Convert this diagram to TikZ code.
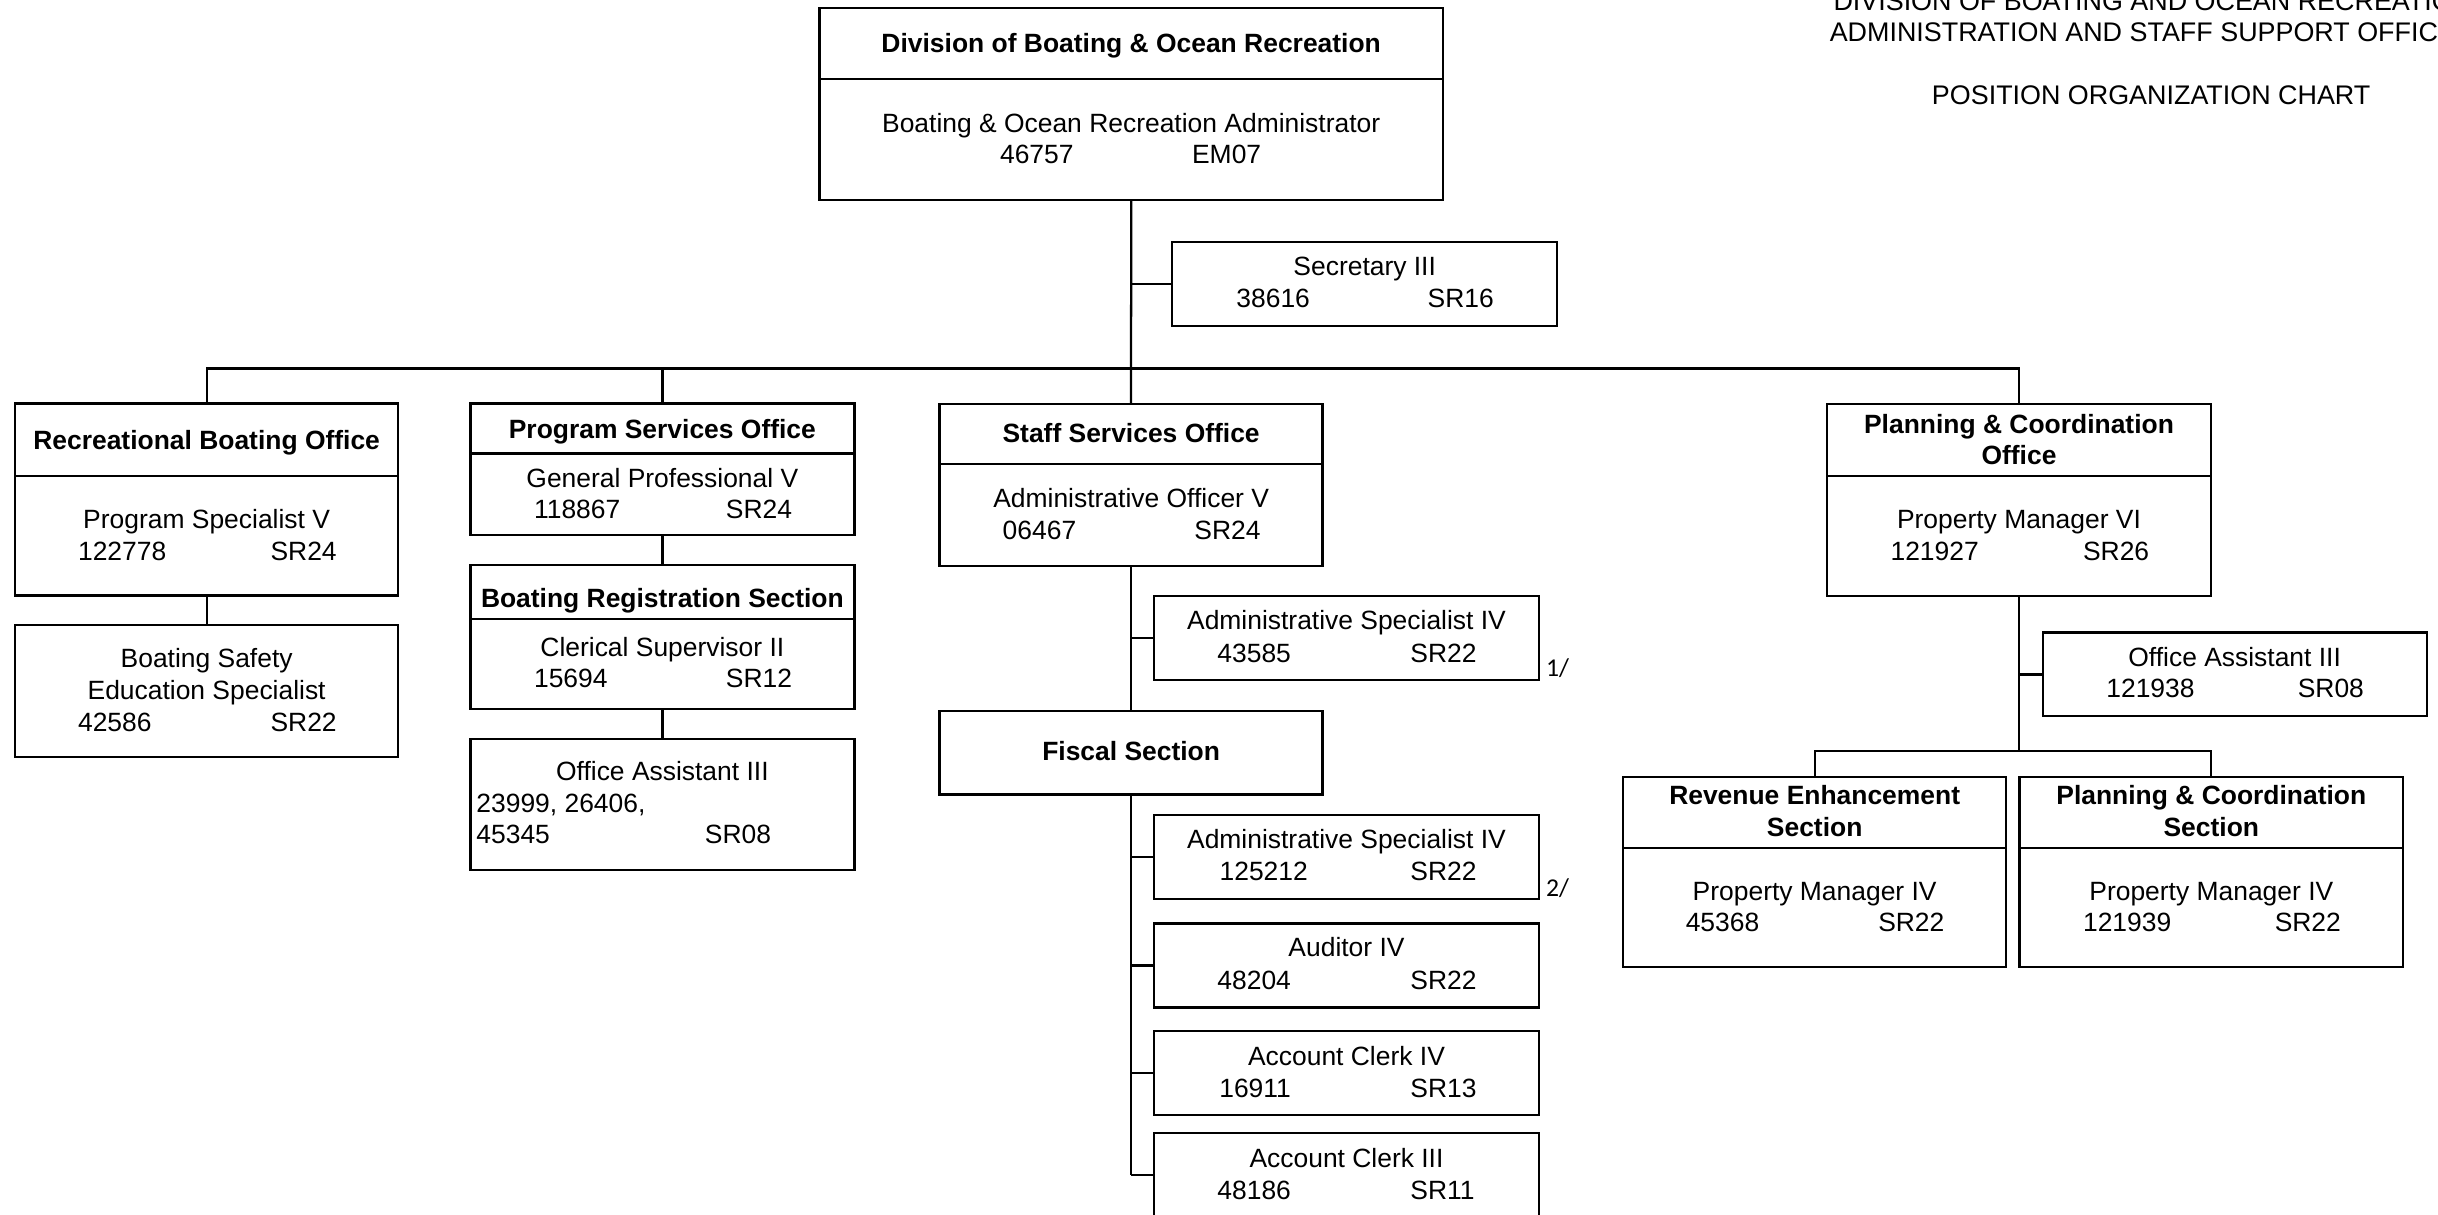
\documentclass[tikz,border=0pt]{standalone}
\usepackage{fontspec}
\setmainfont{Liberation Sans}
\newfontfamily\notefont{Carlito}
\tikzset{
  bx/.style={draw, line width=1.45pt, inner sep=0pt, outer sep=0pt},
  ln/.style={line width=1.45pt},
  tx/.style={inner sep=0pt, anchor=base, font=\fontsize{17}{20.5}\selectfont},
  txb/.style={inner sep=0pt, anchor=base, font=\fontsize{17}{20.5}\selectfont\bfseries},
  txl/.style={inner sep=0pt, anchor=base west, font=\fontsize{17}{20.5}\selectfont},
  hdr/.style={inner sep=0pt, anchor=base west, font=\fontsize{17.3}{20.5}\selectfont},
  note/.style={inner sep=0pt, anchor=base west, font=\notefont\fontsize{16.5}{19}\selectfont},
}
\newcommand\bxx[5]{\node[bx, minimum width={(#4-#2)*1pt}, minimum height={(#5-#3)*1pt}] (#1) at ({(#2+#4)/2},{(#3+#5)/2}) {};}
\newcommand\dvd[3]{\draw[ln] (#1,#3) -- (#2,#3);}
\newcommand\txc[4]{\node[tx] (#1) at (#2,{#3+6}) {#4};}
\newcommand\txbc[4]{\node[txb] (#1) at (#2,{#3+6}) {#4};}
\newcommand\txw[4]{\node[txl] (#1) at (#2,{#3+6}) {#4};}
\begin{document}
\begin{tikzpicture}[x=1pt,y=-1pt]
\useasboundingbox (0,0) rectangle (1568,781);
\fill[white] (0,0) rectangle (1568,781);
\clip (0,0) rectangle (1568,781);

% header
\node[hdr] (h1) at (1179,7) {DIVISION OF BOATING AND OCEAN RECREATION};
\node[hdr] (h2) at (1176.6,26.4) {ADMINISTRATION AND STAFF SUPPORT OFFICE};
\node[hdr, anchor=base] (h3) at (1383.5,67.1) {POSITION ORGANIZATION CHART};

% top
\bxx{top}{527}{5}{928}{128.6}
\dvd{527}{928}{51}
\txbc{ttitle}{727.5}{28}{Division of Boating \& Ocean Recreation}
\txc{tpos}{727.5}{79}{Boating \& Ocean Recreation Administrator}
\txw{tno}{643}{99}{46757}
\txw{tgr}{766.5}{99}{EM07}

% secretary
\bxx{sec}{754}{155.5}{1001.5}{209.6}
\txc{secpos}{877.7}{171.5}{Secretary III}
\txw{secno}{795}{192}{38616}
\txw{secgr}{918}{192}{SR16}

% recreational boating
\bxx{rec}{9.6}{259.5}{256.2}{383}
\dvd{9.6}{256.2}{306}
\txbc{rectitle}{132.9}{283}{Recreational Boating Office}
\txc{recpos}{132.9}{334}{Program Specialist V}
\txw{recno}{50}{354.3}{122778}
\txw{recgr}{173.8}{354.3}{SR24}

\bxx{safe}{9.6}{402}{256.2}{487}
\txc{safep1}{132.9}{423.5}{Boating Safety}
\txc{safep2}{132.9}{444}{Education Specialist}
\txw{safeno}{50}{464.4}{42586}
\txw{safegr}{173.8}{464.4}{SR22}

% program services
\bxx{prog}{302.6}{259.5}{549.5}{344}
\dvd{302.6}{549.5}{291.6}
\txbc{progtitle}{426}{276}{Program Services Office}
\txc{progpos}{426}{307.4}{General Professional V}
\txw{progno}{343.3}{327.7}{118867}
\txw{proggr}{466.7}{327.7}{SR24}

\bxx{reg}{302.6}{363.6}{549.5}{455.8}
\dvd{302.6}{549.5}{398}
\txbc{regtitle}{426}{384.5}{Boating Registration Section}
\txc{regpos}{426}{416.3}{Clerical Supervisor II}
\txw{regno}{343.3}{436.3}{15694}
\txw{reggr}{466.7}{436.3}{SR12}

\bxx{oa}{302.6}{475.2}{549.5}{559.5}
\txc{oapos}{426}{495.7}{Office Assistant III}
\txw{oano1}{306.2}{516.3}{23999, 26406,}
\txw{oano2}{306.2}{536.8}{45345}
\txw{oagr}{453.2}{536.8}{SR08}

% staff services
\bxx{staff}{604.3}{259.8}{850.6}{363.8}
\dvd{604.3}{850.6}{298.6}
\txbc{stafftitle}{727.5}{278.7}{Staff Services Office}
\txc{staffpos}{727.5}{320.5}{Administrative Officer V}
\txw{staffno}{644.7}{340.9}{06467}
\txw{staffgr}{768}{340.9}{SR24}

\bxx{as1}{742.3}{383.3}{989.8}{437.4}
\txc{asonepos}{866}{398.8}{Administrative Specialist IV}
\txw{asoneno}{782.8}{419.8}{43585}
\txw{asonegr}{906.9}{419.8}{SR22}
\node[note] (n1) at (994.2,434.8) {1/};

\bxx{fiscal}{604.3}{457.1}{850.6}{510.9}
\txbc{fistitle}{727.5}{482.8}{Fiscal Section}

\bxx{as2}{742.3}{524.2}{989.8}{578.2}
\txc{astwopos}{866}{539.8}{Administrative Specialist IV}
\txw{astwono}{784.2}{560.6}{125212}
\txw{astwogr}{906.9}{560.6}{SR22}
\node[note] (n2) at (994.2,576.3) {2/};

\bxx{aud}{742.3}{593.9}{989.8}{647.9}
\txc{audpos}{866}{608.9}{Auditor IV}
\txw{audno}{782.8}{630.3}{48204}
\txw{audgr}{906.9}{630.3}{SR22}

\bxx{ac4}{742.3}{663.1}{989.8}{717.1}
\txc{acfpos}{866}{679.2}{Account Clerk IV}
\txw{acfno}{784}{700}{16911}
\txw{acfgr}{906.9}{700}{SR13}

\bxx{ac3}{742.3}{728.5}{989.8}{782.5}
\txc{actpos}{866}{745}{Account Clerk III}
\txw{actno}{782.8}{765.4}{48186}
\txw{actgr}{906.9}{765.4}{SR11}

% planning & coordination
\bxx{plan}{1175.1}{259.7}{1421.9}{383.3}
\dvd{1175.1}{1421.9}{306.2}
\txbc{plant1}{1298.5}{272.6}{Planning \& Coordination}
\txbc{plant2}{1298.5}{293}{Office}
\txc{planpos}{1298.5}{333.8}{Property Manager VI}
\txw{planno}{1215.7}{354.4}{121927}
\txw{plangr}{1339.5}{354.4}{SR26}

\bxx{oa2}{1313.7}{406.8}{1560.8}{460.7}
\txc{oatwopos}{1437.2}{422.8}{Office Assistant III}
\txw{oatwono}{1354.5}{442.9}{121938}
\txw{oatwogr}{1477.6}{442.9}{SR08}

\bxx{rev}{1043.9}{499.5}{1290.3}{622}
\dvd{1043.9}{1290.3}{545.5}
\txbc{revt1}{1167.1}{511.3}{Revenue Enhancement}
\txbc{revt2}{1167.1}{532}{Section}
\txc{revpos}{1167.1}{573}{Property Manager IV}
\txw{revno}{1084}{593.1}{45368}
\txw{revgr}{1207.8}{593.1}{SR22}

\bxx{pcs}{1298.9}{499.5}{1545.4}{622}
\dvd{1298.9}{1545.4}{545.5}
\txbc{pcst1}{1422.2}{511.3}{Planning \& Coordination}
\txbc{pcst2}{1422.2}{532}{Section}
\txc{pcspos}{1422.2}{573}{Property Manager IV}
\txw{pcsno}{1339.5}{593.1}{121939}
\txw{pcsgr}{1462.8}{593.1}{SR22}

% connectors
\coordinate (bc) at (727.5,237);
\coordinate (sb) at (1298.5,483);
\draw[ln] (rec.north) |- (bc) -| (plan.north);
\draw[ln] (prog.north) -- (prog.north |- bc);
\draw[ln] (top.south) -- (staff.north);
\draw[ln] (sec.west) -- (sec.west -| top.south);
\draw[ln] (rec.south) -- (safe.north);
\draw[ln] (prog.south) -- (reg.north);
\draw[ln] (reg.south) -- (oa.north);
\draw[ln] (staff.south) -- (fiscal.north);
\draw[ln] (as1.west) -- (as1.west -| staff.south);
\draw[ln] (fiscal.south) -- (fiscal.south |- ac3.west);
\foreach \n in {as2,aud,ac4,ac3} {\draw[ln] (\n.west) -- (\n.west -| fiscal.south);}
\draw[ln] (plan.south) -- (sb);
\draw[ln] (rev.north) |- (sb) -| (pcs.north);
\draw[ln] (oa2.west) -- (oa2.west -| plan.south);
\end{tikzpicture}
\end{document}
